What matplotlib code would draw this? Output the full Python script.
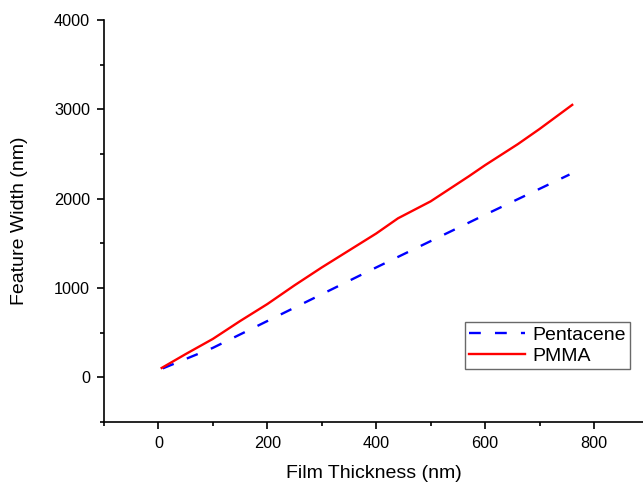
import numpy as np
import matplotlib.pyplot as plt
from matplotlib.ticker import MultipleLocator

plt.rcParams['font.family'] = ['Liberation Sans', 'DejaVu Sans']

# film thickness (nm) vs feature width (nm)
pentacene_t = [8, 100, 200, 300, 400, 500, 600, 700, 755]
pentacene_w = [100, 330, 630, 930, 1230, 1525, 1820, 2110, 2270]

pmma_t = [6, 50, 100, 150, 200, 250, 300, 350, 400, 440, 500, 570, 600, 660, 700, 760]
pmma_w = [105, 260, 430, 630, 820, 1030, 1230, 1420, 1610, 1780, 1970, 2250, 2375, 2610, 2780, 3050]

fig = plt.figure(figsize=(6.43, 4.82), dpi=100)
ax = fig.add_axes([0.1617, 0.1245, 0.8383, 0.834])

ax.plot(pentacene_t, pentacene_w, color='#0000ff', lw=1.7, dashes=(5, 6), label='Pentacene')
ax.plot(pmma_t, pmma_w, color='#ff0000', lw=1.7, label='PMMA')

ax.set_xlim(-100, 890)
ax.set_ylim(-500, 4000)
ax.xaxis.set_major_locator(MultipleLocator(200))
ax.xaxis.set_minor_locator(MultipleLocator(100))
ax.yaxis.set_major_locator(MultipleLocator(1000))
ax.yaxis.set_minor_locator(MultipleLocator(500))
ax.tick_params(which='major', direction='out', length=5, width=1.2, labelsize=11.7, pad=5)
ax.tick_params(which='minor', direction='out', length=3, width=1.2)

for s in ['top', 'right']:
    ax.spines[s].set_visible(False)
for s in ['left', 'bottom']:
    ax.spines[s].set_linewidth(1.2)

ax.set_xlabel('Film Thickness (nm)', fontsize=14, labelpad=10)
ax.set_ylabel('Feature Width (nm)', fontsize=14, labelpad=19)

leg = ax.legend(loc='lower right', bbox_to_anchor=(0.976, 0.132), fontsize=14,
                frameon=True, fancybox=False, handlelength=2.9, borderpad=0.2,
                labelspacing=0.2, handletextpad=0.4, borderaxespad=0)
leg.get_frame().set_edgecolor('#444444')
leg.get_frame().set_linewidth(1)

fig.savefig('out.png', dpi=100)
